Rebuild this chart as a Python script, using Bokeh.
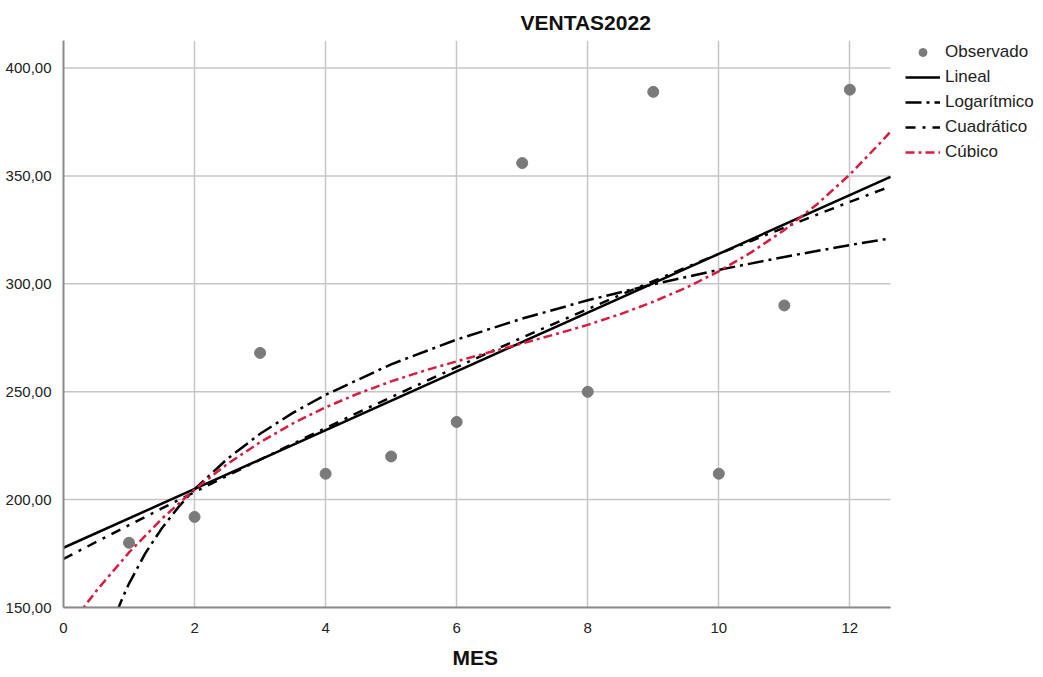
from bokeh.plotting import figure
from bokeh.models import Legend, LegendItem, FixedTicker, Range1d, Title
from bokeh.embed import file_html
from bokeh.resources import INLINE

# Observed data
mes = [1, 2, 3, 4, 5, 6, 7, 8, 9, 10, 11, 12]
ventas = [180, 192, 268, 212, 220, 236, 356, 250, 389, 212, 290, 390]

# Fitted curves
lin_x = [0, 12.62]
lin_y = [177.7, 349.6]

log_x = [0.8, 0.9, 1, 1.25, 1.5, 1.75, 2, 2.5, 3, 3.5, 4, 5, 6, 7, 8, 9, 10, 11, 12, 12.62]
log_y = [147.0, 154.4, 161.1, 175.2, 186.7, 196.4, 204.8, 218.9, 230.5, 240.2, 248.6,
         262.7, 274.2, 283.9, 292.4, 299.8, 306.5, 312.5, 318.0, 321.1]

poly_x = [0, 0.5, 1, 1.5, 2, 2.5, 3, 3.5, 4, 4.5, 5, 5.5, 6, 6.5, 7, 7.5, 8, 8.5, 9,
          9.5, 10, 10.5, 11, 11.5, 12, 12.5, 12.62]
quad_y = [172.5, 180.4, 188.2, 195.9, 203.5, 211.1, 218.5, 225.9, 233.2, 240.4, 247.5,
          254.5, 261.4, 268.3, 275.1, 281.7, 288.3, 294.9, 301.3, 307.6, 313.9, 320.0,
          326.1, 332.1, 338.0, 343.8, 345.2]
cub_y = [137.6, 157.7, 175.5, 191.1, 204.7, 216.5, 226.6, 235.3, 242.8, 249.2, 254.8,
         259.7, 264.1, 268.3, 272.4, 276.6, 281.0, 286.0, 291.7, 298.2, 305.8, 314.7,
         325.0, 336.9, 350.7, 366.5, 370.6]

x_ticks = [0, 2, 4, 6, 8, 10, 12]
y_ticks = [150, 200, 250, 300, 350, 400]
y_tick_labels = ["150,00", "200,00", "250,00", "300,00", "350,00", "400,00"]

X_END = 12.62   # right end of the x axis
FONT = "Liberation Sans"

# the frame runs to the right edge so the legend can sit in it; the axis stops at X_END
p = figure(width=1043, height=677, x_range=Range1d(0, 14.955), y_range=Range1d(150, 412.8),
           output_backend="svg", toolbar_location=None, title="VENTAS2022",
           min_border_left=63, min_border_right=0, min_border_top=40, min_border_bottom=70)

p.title.align = "left"
p.title.offset = 457
p.title.text_font = FONT
p.title.text_font_size = "21px"
p.title.text_font_style = "bold"
p.title.text_color = "#111111"
p.title.standoff = 14

p.outline_line_color = None
p.background_fill_color = "white"

for ax in (p.xaxis[0], p.yaxis[0]):
    ax.axis_line_color = "#8a8a8a"
    ax.axis_line_width = 2
    ax.major_tick_line_color = None
    ax.minor_tick_line_color = None
    ax.major_label_text_font = FONT
    ax.major_label_text_font_size = "15px"
    ax.major_label_text_color = "#222222"
    ax.major_label_standoff = 6

p.xaxis.bounds = (0, X_END)
p.xaxis.major_label_standoff = 9
p.xaxis.ticker = FixedTicker(ticks=x_ticks)
p.yaxis.ticker = FixedTicker(ticks=y_ticks)
p.yaxis.major_label_overrides = dict(zip(y_ticks, y_tick_labels))

# x axis title, centred under the axis itself
x_title = Title(text="MES", align="left", offset=389, text_font=FONT, text_font_size="21px",
                text_font_style="bold", text_color="#111111", standoff=16)
p.add_layout(x_title, "below")

p.xgrid.ticker = FixedTicker(ticks=x_ticks)
p.xgrid.grid_line_color = "#c6c6c6"
p.xgrid.grid_line_width = 1.5
p.ygrid.grid_line_color = None
# horizontal grid lines, stopping at the end of the x axis
p.segment(x0=[0] * len(y_ticks), y0=y_ticks, x1=[X_END] * len(y_ticks), y1=y_ticks,
          line_color="#c6c6c6", line_width=1.5)

r_obs = p.scatter(mes, ventas, size=11, color="#7a7a7a")
r_lin = p.line(lin_x, lin_y, color="black", line_width=2.5)
r_log = p.line(log_x, log_y, color="black", line_width=2.5, line_dash="16 5 3 5")
r_quad = p.line(poly_x, quad_y, color="black", line_width=2.5, line_dash="10 7 3 7")
r_cub = p.line(poly_x, cub_y, color="#D81B41", line_width=2.5, line_dash="9 4 3 4")

legend = Legend(items=[
    LegendItem(label="Observado", renderers=[r_obs]),
    LegendItem(label="Lineal", renderers=[r_lin]),
    LegendItem(label="Logarítmico", renderers=[r_log]),
    LegendItem(label="Cuadrático", renderers=[r_quad]),
    LegendItem(label="Cúbico", renderers=[r_cub]),
], location=(842, 445.5))
legend.label_text_font = FONT
legend.label_text_font_size = "17px"
legend.label_text_color = "#222222"
legend.glyph_width = 35
legend.glyph_height = 20
legend.label_height = 20
legend.spacing = 5
legend.label_standoff = 5
legend.padding = 0
legend.margin = 0
legend.border_line_color = None
legend.background_fill_alpha = 0
p.add_layout(legend)

open("out.html", "w").write(file_html(p, INLINE))
